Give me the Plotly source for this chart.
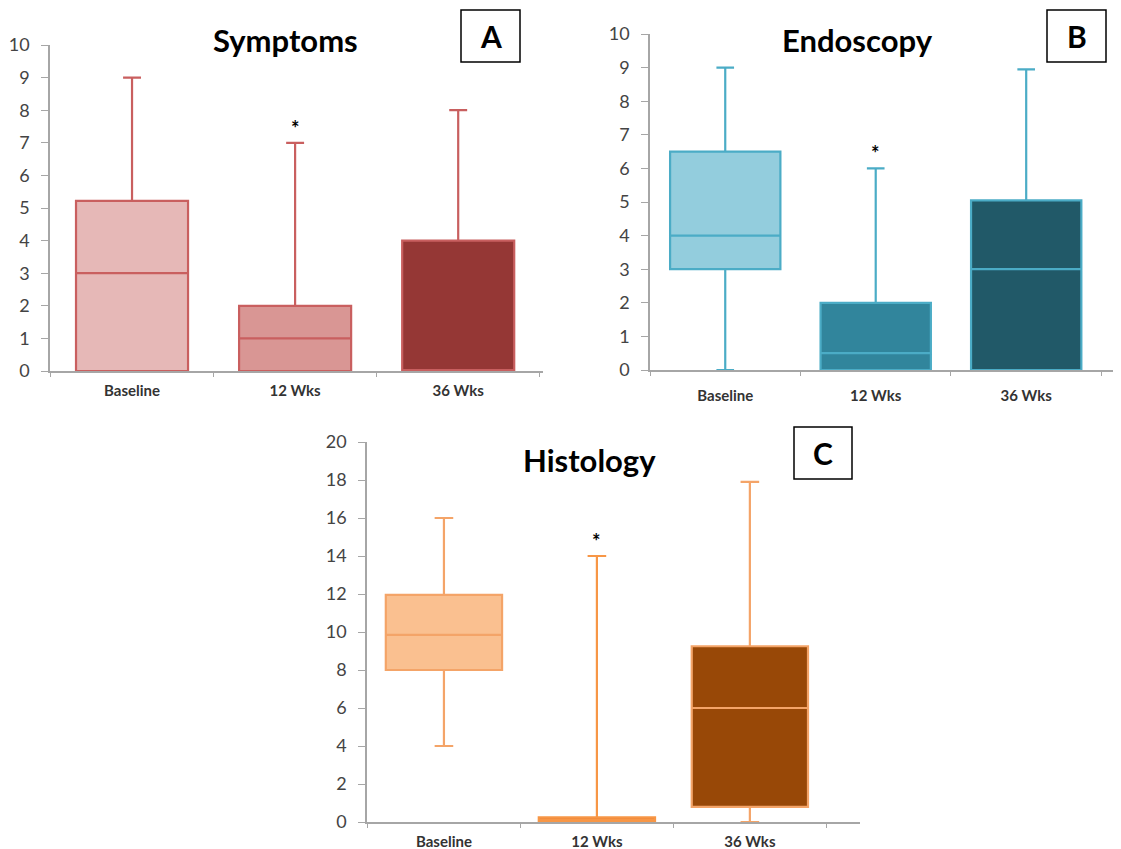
import plotly.graph_objects as go

W, H = 1121, 849
OFF = 8  # page body margin
categories = ["Baseline", "12 Wks", "36 Wks"]

# Symptoms (A)
sym_min = [0, 0, 0]
sym_q1 = [0, 0, 0]
sym_med = [3, 1, 0]
sym_q3 = [5.22, 2, 4]
sym_max = [9, 7, 8]

# Endoscopy (B)
endo_min = [0, 0, 0]
endo_q1 = [3, 0, 0]
endo_med = [4, 0.5, 3]
endo_q3 = [6.5, 2, 5.05]
endo_max = [9, 6, 8.95]

# Histology (C)
hist_min = [4, 0, 0]
hist_q1 = [8, 0, 0.8]
hist_med = [9.85, 0.1, 6]
hist_q3 = [11.95, 0.25, 9.25]
hist_max = [16, 14, 17.9]

star_y = [7.45, 6.45, 14.8]

fills_A = ["#e6b8b7", "#d99694", "#953735"]
lines_A = ["#c95f5f", "#c95f5f", "#c85f5f"]
fills_B = ["#93cddd", "#31859c", "#215968"]
lines_B = ["#4bacc6", "#4bacc6", "#4bacc6"]
fills_C = ["#fac090", "#f08a3c", "#984807"]
lines_C = ["#f4a468", "#f79646", "#f4a468"]

FONT = "Lato"

def px_x(p):
    return (p - OFF) / W

def px_y(p):
    return 1 - (p - OFF) / H

fig = go.Figure()

panels = [
    dict(ax="", mins=sym_min, q1=sym_q1, med=sym_med, q3=sym_q3, maxs=sym_max,
         fills=fills_A, lines=lines_A, xr=[-0.503, 2.52], yr=[0, 10], dt=1,
         xd=[50, 543], yd=[45, 371], width=0.687, stand=5),
    dict(ax="2", mins=endo_min, q1=endo_q1, med=endo_med, q3=endo_q3, maxs=endo_max,
         fills=fills_B, lines=lines_B, xr=[-0.5, 2.63], yr=[0, 10], dt=1,
         xd=[650, 1121], yd=[34, 370], width=0.733, stand=11),
    dict(ax="3", mins=hist_min, q1=hist_q1, med=hist_med, q3=hist_q3, maxs=hist_max,
         fills=fills_C, lines=lines_C, xr=[-0.503, 2.72], yr=[0, 20], dt=2,
         xd=[367, 860], yd=[442, 822], width=0.76, stand=5),
]

layout = {}
for pi, p in enumerate(panels):
    for i, c in enumerate(categories):
        fig.add_trace(go.Box(
            x=[c], q1=[p["q1"][i]], median=[p["med"][i]], q3=[p["q3"][i]],
            lowerfence=[p["mins"][i]], upperfence=[p["maxs"][i]],
            fillcolor=p["fills"][i], line=dict(color=p["lines"][i], width=2.2),
            width=p["width"], whiskerwidth=0.16, boxpoints=False,
            xaxis="x" + p["ax"], yaxis="y" + p["ax"], showlegend=False,
            hoverinfo="skip",
        ))
    xa = "xaxis" + p["ax"]
    ya = "yaxis" + p["ax"]
    layout[xa] = dict(
        domain=[px_x(p["xd"][0]), px_x(p["xd"][1])], range=p["xr"], automargin=False,
        anchor="y" + p["ax"], type="category", categoryorder="array",
        categoryarray=categories, showline=True, linecolor="#a6a6a6", linewidth=1.5,
        ticks="outside", tickson="boundaries", ticklen=4, tickcolor="#a6a6a6",
        showgrid=False, zeroline=False, ticklabelstandoff=p["stand"],
        tickfont=dict(family=FONT, size=15, color="#333333", weight="bold"),
    )
    layout[ya] = dict(
        domain=[px_y(p["yd"][1]), px_y(p["yd"][0])], range=p["yr"], dtick=p["dt"],
        anchor="x" + p["ax"], showline=True, linecolor="#a6a6a6", linewidth=1.5,
        automargin=False, ticklabelstandoff=8,
        ticks="outside", ticklen=7, tickcolor="#a6a6a6", showgrid=False,
        zeroline=False, tickfont=dict(family=FONT, size=18, color="#444444"),
    )

annotations = []
shapes = []
titles = [("Symptoms", 285, 40), ("Endoscopy", 857, 40), ("Histology", 589, 460)]
for t, x, y in titles:
    annotations.append(dict(text=t, x=px_x(x), y=px_y(y), xref="paper", yref="paper",
                            showarrow=False, xanchor="center", yanchor="middle",
                            font=dict(family=FONT, size=31, color="#000000", weight="bold")))
letters = [("A", 461, 520, 10, 62), ("B", 1047, 1106, 10, 62), ("C", 794, 852, 427, 479)]
for l, x0, x1, y0, y1 in letters:
    shapes.append(dict(type="rect", xref="paper", yref="paper", x0=px_x(x0), x1=px_x(x1),
                       y0=px_y(y1), y1=px_y(y0), line=dict(color="#000000", width=1.5)))
    annotations.append(dict(text=l, x=px_x((x0 + x1) / 2), y=px_y((y0 + y1) / 2),
                            xref="paper", yref="paper", showarrow=False,
                            xanchor="center", yanchor="middle",
                            font=dict(family=FONT, size=30, color="#000000", weight="bold")))
for p, sy in zip(panels, star_y):
    annotations.append(dict(text="*", x="12 Wks", y=sy, xref="x" + p["ax"], yref="y" + p["ax"],
                            showarrow=False, yanchor="middle",
                            font=dict(family=FONT, size=20, color="#000000", weight="bold")))

fig.update_layout(**layout)
fig.update_layout(width=W, height=H, margin=dict(l=0, r=0, t=0, b=0, pad=0, autoexpand=False),
                  plot_bgcolor="white", paper_bgcolor="white",
                  annotations=annotations, shapes=shapes)
fig.write_html("out.html")
